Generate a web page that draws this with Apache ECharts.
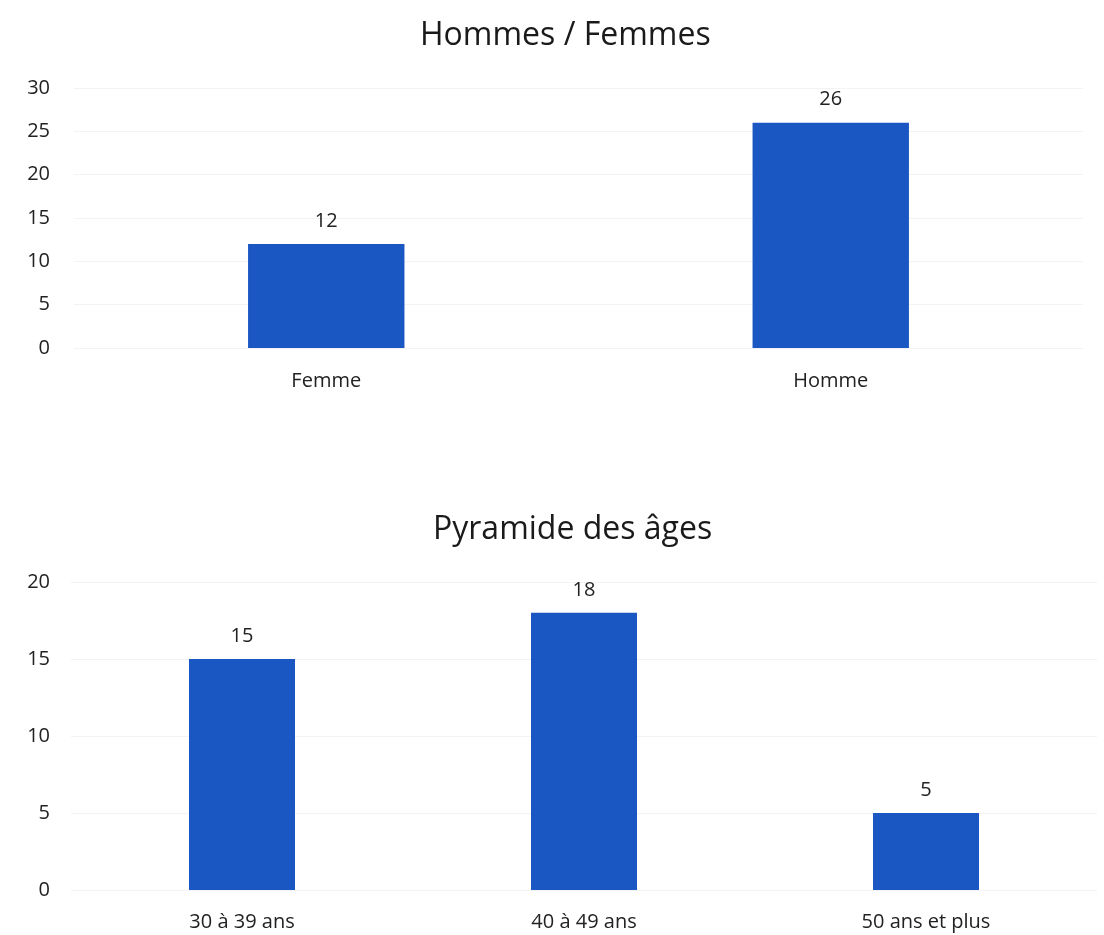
<!DOCTYPE html>
<html>
<head>
<meta charset="utf-8">
<script src="https://cdn.jsdelivr.net/npm/echarts@6/dist/echarts.min.js"></script>
<style>html,body{margin:0;padding:0;background:#fff}#c{width:1104px;height:935px}</style>
</head>
<body>
<div id="c"></div>
<script>
const title1 = "Hommes / Femmes";
const cats1 = ["Femme", "Homme"];
const vals1 = [12, 26];
const ticks1 = {min: 0, max: 30, interval: 5};

const title2 = "Pyramide des âges";
const cats2 = ["30 à 39 ans", "40 à 49 ans", "50 ans et plus"];
const vals2 = [15, 18, 5];
const ticks2 = {min: 0, max: 20, interval: 5};

const font = "Open Sans";
const barColor = "#1a57c2";
const chart = echarts.init(document.getElementById('c'), null, {renderer: 'canvas'});
const axisLabel = {color: '#222', fontSize: 20, fontFamily: font};
chart.setOption({
  animation: false,
  title: [
    {text: title1, left: 415, top: 15, textStyle: {fontFamily: font, fontSize: 32, fontWeight: 'normal', color: '#1a1a1a'}},
    {text: title2, left: 428, top: 509, textStyle: {fontFamily: font, fontSize: 32, fontWeight: 'normal', color: '#1a1a1a'}}
  ],
  grid: [
    {left: 74, right: 21, top: 88, bottom: 935 - 348},
    {left: 71, right: 7, top: 582, bottom: 45}
  ],
  xAxis: [
    {type: 'category', gridIndex: 0, data: cats1, axisLine: {show: false}, axisTick: {show: false}, axisLabel: Object.assign({margin: 23}, axisLabel)},
    {type: 'category', gridIndex: 1, data: cats2, axisLine: {show: false}, axisTick: {show: false}, axisLabel: Object.assign({margin: 22}, axisLabel)}
  ],
  yAxis: [
    Object.assign({type: 'value', gridIndex: 0, axisLabel: Object.assign({margin: 24}, axisLabel), splitLine: {lineStyle: {color: '#f3f3f3'}}, axisLine: {show: false}, axisTick: {show: false}}, ticks1),
    Object.assign({type: 'value', gridIndex: 1, axisLabel: Object.assign({margin: 21}, axisLabel), splitLine: {lineStyle: {color: '#f3f3f3'}}, axisLine: {show: false}, axisTick: {show: false}}, ticks2)
  ],
  series: [
    {type: 'bar', xAxisIndex: 0, yAxisIndex: 0, data: vals1, barWidth: '31%', itemStyle: {color: barColor},
     label: {show: true, position: 'top', distance: 13, color: '#222', fontSize: 20, fontFamily: font}},
    {type: 'bar', xAxisIndex: 1, yAxisIndex: 1, data: vals2, barWidth: '31%', itemStyle: {color: barColor},
     label: {show: true, position: 'top', distance: 13, color: '#222', fontSize: 20, fontFamily: font}}
  ]
});
</script>
</body>
</html>
